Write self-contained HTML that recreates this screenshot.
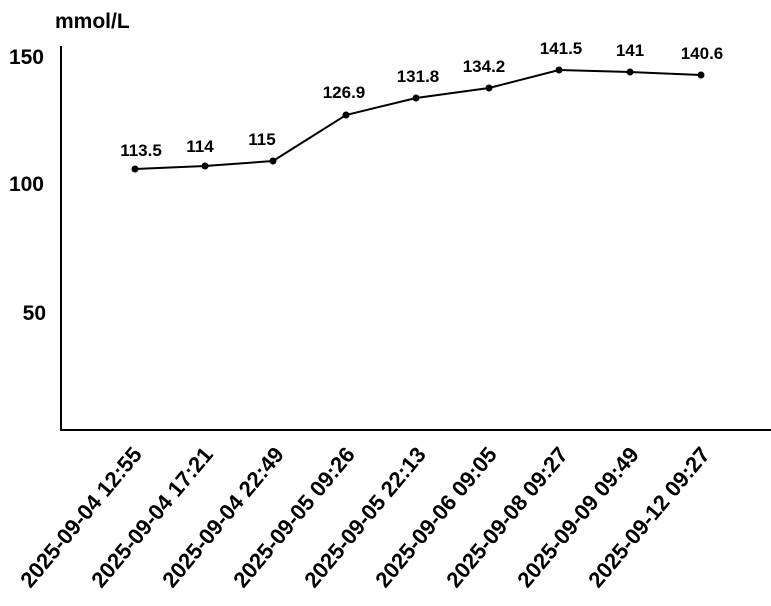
<!DOCTYPE html>
<html><head><meta charset="utf-8"><style>
html,body{margin:0;padding:0;background:#fff;}
svg{display:block;}
text{font-family:"Liberation Sans","Noto Sans CJK SC",sans-serif;fill:#000;}
</style></head><body>
<svg width="771" height="606" viewBox="0 0 771 606">
<text x="55" y="28" font-size="21" font-weight="bold">mmol/L</text>
<g font-size="21" font-weight="bold" text-anchor="end">
<text x="44" y="64">150</text>
<text x="44" y="191">100</text>
<text x="46" y="320">50</text>
</g>
<line x1="61" y1="46" x2="61" y2="430" stroke="#000" stroke-width="2"/>
<line x1="60" y1="430" x2="771" y2="430" stroke="#000" stroke-width="2"/>
<polyline fill="none" stroke="#000" stroke-width="2" points="135,169 205,166 273,161 346,115 416,98 489,88 559,70 630,72 701,75"/>
<g fill="#000">
<circle cx="135" cy="169" r="3.5"/><circle cx="205" cy="166" r="3.5"/><circle cx="273" cy="161" r="3.5"/>
<circle cx="346" cy="115" r="3.5"/><circle cx="416" cy="98" r="3.5"/><circle cx="489" cy="88" r="3.5"/>
<circle cx="559" cy="70" r="3.5"/><circle cx="630" cy="72" r="3.5"/><circle cx="701" cy="75" r="3.5"/>
</g>
<g font-size="17" font-weight="bold" text-anchor="middle">
<text x="141" y="156">113.5</text>
<text x="200" y="152">114</text>
<text x="262" y="145">115</text>
<text x="344" y="98">126.9</text>
<text x="418" y="82">131.8</text>
<text x="484" y="72">134.2</text>
<text x="561" y="54">141.5</text>
<text x="630" y="56">141</text>
<text x="702" y="59">140.6</text>
</g>
<g font-size="22" font-weight="bold" text-anchor="end">
<text transform="translate(143,455) rotate(-50)">2025-09-04 12:55</text>
<text transform="translate(214,455) rotate(-50)">2025-09-04 17:21</text>
<text transform="translate(285,455) rotate(-50)">2025-09-04 22:49</text>
<text transform="translate(356,455) rotate(-50)">2025-09-05 09:26</text>
<text transform="translate(427,455) rotate(-50)">2025-09-05 22:13</text>
<text transform="translate(498,455) rotate(-50)">2025-09-06 09:05</text>
<text transform="translate(569,455) rotate(-50)">2025-09-08 09:27</text>
<text transform="translate(640,455) rotate(-50)">2025-09-09 09:49</text>
<text transform="translate(711,455) rotate(-50)">2025-09-12 09:27</text>
</g>
</svg>
</body></html>
